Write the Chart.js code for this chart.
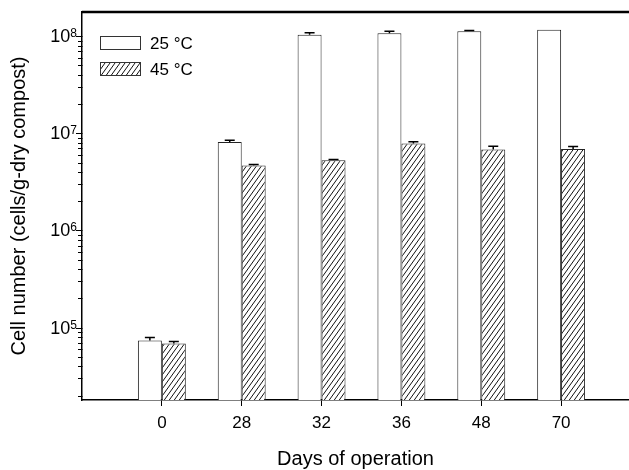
<!DOCTYPE html>
<html>
<head>
<meta charset="utf-8">
<script src="https://cdn.jsdelivr.net/npm/chart.js@4.4.0/dist/chart.umd.min.js"></script>
<style>
    html, body { margin: 0; padding: 0; background: #fff; overflow: hidden; }
</style>
</head>
<body>
<canvas id="cellChart" width="629" height="470"></canvas>
<script>
// values
const days = ["0", "28", "32", "36", "48", "70"];
const cells25 = [7.35e4, 8.15e6, 1.03e8, 1.07e8, 1.125e8, 1.16e8];
const err25 = [5.5e3, 3.5e5, 5e6, 5e6, 1.5e6, 0];
const cells45 = [6.85e4, 4.66e6, 5.28e6, 7.84e6, 6.8e6, 6.9e6];
const err45 = [3.5e3, 1e5, 1e5, 3.5e5, 5.5e5, 4e5];
const seriesNames = ["25 \u00B0C", "45 \u00B0C"];
const yMajor = [1e5, 1e6, 1e7, 1e8];
const yExponents = ["5", "6", "7", "8"];

const FONT = "'Liberation Sans', Arial, sans-serif";
Chart.defaults.font.family = FONT;
Chart.defaults.color = "#000";

const canvas = document.getElementById("cellChart");
const ctx = canvas.getContext("2d");

// diagonal hatch for the 45 C bars
function makeHatch() {
    const c = document.createElement("canvas");
    c.width = 5;
    c.height = 7;
    const g = c.getContext("2d");
    g.fillStyle = "#fff";
    g.fillRect(0, 0, 5, 7);
    g.strokeStyle = "#111";
    g.lineWidth = 1;
    g.beginPath();
    g.moveTo(0, 7); g.lineTo(5, 0);
    g.moveTo(-5, 7); g.lineTo(0, 0);
    g.moveTo(5, 7); g.lineTo(10, 0);
    g.stroke();
    return ctx.createPattern(c, "repeat");
}
const hatch = makeHatch();

const decor = {
    id: "decor",
    afterDatasetsDraw(chart) {
        const g = chart.ctx;
        const y = chart.scales.y;
        const area = chart.chartArea;
        g.save();

        // error bars
        g.strokeStyle = "#000";
        g.lineWidth = 1.5;
        [err25, err45].forEach((errs, di) => {
            const vals = di === 0 ? cells25 : cells45;
            chart.getDatasetMeta(di).data.forEach((bar, i) => {
                if (!errs[i]) return;
                const top = y.getPixelForValue(vals[i] + errs[i]);
                g.beginPath();
                g.moveTo(bar.x, bar.y);
                g.lineTo(bar.x, top);
                g.moveTo(bar.x - 5, top);
                g.lineTo(bar.x + 5, top);
                g.stroke();
            });
        });

        // y tick marks, major and minor
        g.strokeStyle = "#000";
        g.lineWidth = 1;
        yMajor.concat([1e4]).forEach(dec => {
            for (let m = 1; m <= 9; m++) {
                const v = dec * m;
                if (v < y.min || v > y.max) continue;
                const py = Math.round(y.getPixelForValue(v)) + 0.5;
                const len = m === 1 ? 6 : 4;
                g.beginPath();
                g.moveTo(area.left - len, py);
                g.lineTo(area.left + 0.5, py);
                g.stroke();
            }
        });

        // y labels as 10 with a raised exponent
        g.fillStyle = "#000";
        yMajor.forEach((v, i) => {
            const py = y.getPixelForValue(v);
            g.font = "12px " + FONT;
            g.textAlign = "right";
            g.textBaseline = "alphabetic";
            g.fillText(yExponents[i], area.left - 5, py + 1);
            const ew = g.measureText(yExponents[i]).width;
            g.font = "18px " + FONT;
            g.textBaseline = "middle";
            g.fillText("10", area.left - 5 - ew, py + 1);
        });

        // heavy top frame
        g.lineWidth = 2.5;
        g.beginPath();
        g.moveTo(area.left, area.top);
        g.lineTo(area.right, area.top);
        g.stroke();

        // legend
        const fills = ["#fff", hatch];
        g.font = "17px " + FONT;
        g.textAlign = "left";
        g.textBaseline = "middle";
        seriesNames.forEach((name, i) => {
            const bx = area.left + 18;
            const by = area.top + 24 + i * 26;
            g.fillStyle = fills[i];
            g.fillRect(bx, by, 40, 13);
            g.strokeStyle = "#333";
            g.lineWidth = 1;
            g.strokeRect(bx + 0.5, by + 0.5, 40, 13);
            g.fillStyle = "#000";
            g.fillText(name, bx + 50, by + 8);
        });

        g.restore();
    }
};

new Chart(ctx, {
    type: "bar",
    data: {
        datasets: [
            {
                label: seriesNames[0],
                data: cells25.map((v, i) => ({ x: i, y: v })),
                backgroundColor: "#fff",
                borderColor: "#222",
                borderWidth: 1
            },
            {
                label: seriesNames[1],
                data: cells45.map((v, i) => ({ x: i, y: v })),
                backgroundColor: hatch,
                borderColor: "#222",
                borderWidth: 1
            }
        ]
    },
    options: {
        responsive: false,
        animation: false,
        devicePixelRatio: 1,
        categoryPercentage: 0.6,
        barPercentage: 1.0,
        layout: { padding: { top: 12, left: 0, right: 0, bottom: 0 } },
        plugins: {
            legend: { display: false },
            tooltip: { enabled: false }
        },
        scales: {
            x: {
                type: "linear",
                min: -1,
                max: 5.85,
                offset: false,
                grid: { offset: false, drawOnChartArea: false, tickLength: 6, color: "#000", lineWidth: 1 },
                border: { color: "#000", width: 1.5 },
                afterBuildTicks: s => { s.ticks = days.map((d, i) => ({ value: i })); },
                afterFit: s => { s.height = 70; },
                ticks: {
                    font: { size: 17 },
                    padding: 7,
                    maxRotation: 0,
                    autoSkip: false,
                    callback: v => days[v] !== undefined ? days[v] : ""
                },
                title: {
                    display: true,
                    text: "Days of operation",
                    font: { size: 20 },
                    padding: { top: 0, bottom: -1 }
                }
            },
            y: {
                type: "logarithmic",
                min: 1.8e4,
                max: 1.77e8,
                grid: { drawOnChartArea: false, drawTicks: false, color: "rgba(0,0,0,0)" },
                border: { color: "#000", width: 1.5 },
                afterBuildTicks: s => { s.ticks = yMajor.map(v => ({ value: v, major: true })); },
                afterFit: s => { s.width = 82; },
                ticks: { display: false },
                title: {
                    display: true,
                    text: "Cell number (cells/g-dry compost)",
                    font: { size: 20 },
                    padding: { top: 7, bottom: 0 }
                }
            }
        }
    },
    plugins: [decor]
});
</script>
</body>
</html>
